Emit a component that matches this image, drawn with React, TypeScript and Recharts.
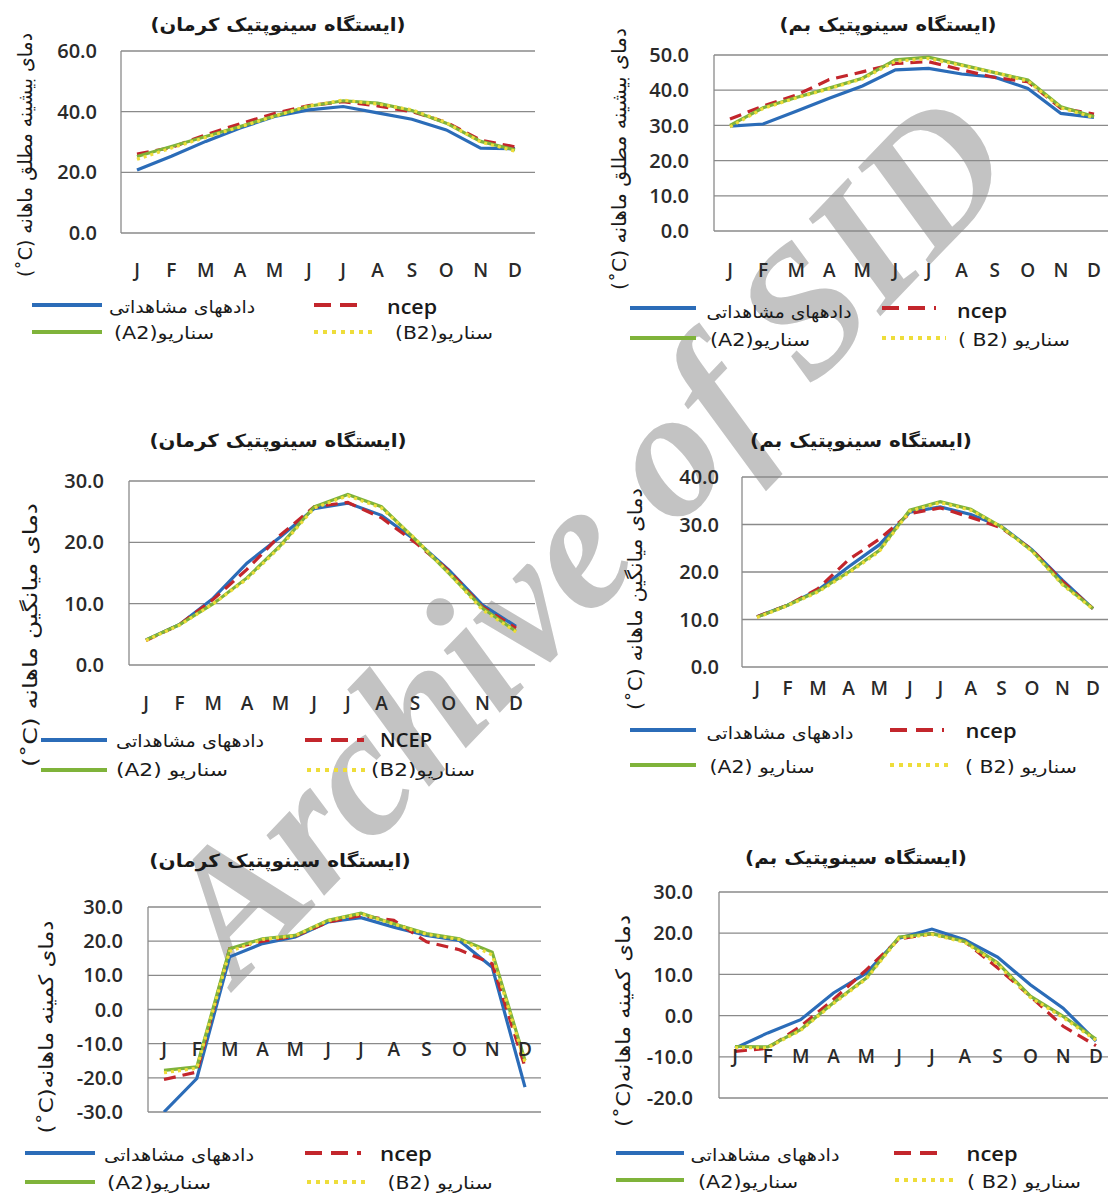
import React from 'react';
import { LineChart, Line, XAxis, YAxis, CartesianGrid } from 'recharts';

// ---------- data ----------
const months = ['J', 'F', 'M', 'A', 'M', 'J', 'J', 'A', 'S', 'O', 'N', 'D'];

// Kerman – absolute monthly maximum
const kermanMaxObs = [20.8, 25.3, 30.2, 34.6, 38.4, 40.6, 41.7, 39.6, 37.5, 34.0, 28.0, 27.8];
const kermanMaxNcep = [26.0, 28.2, 32.4, 36.0, 39.4, 42.0, 43.3, 41.9, 40.0, 36.5, 30.6, 28.4];
const kermanMaxA2 = [25.2, 28.5, 31.8, 35.1, 38.6, 41.8, 43.6, 42.8, 40.4, 36.2, 30.2, 27.4];
const kermanMaxB2 = [24.3, 28.0, 31.5, 35.0, 38.5, 41.9, 43.8, 42.5, 40.6, 36.4, 30.0, 27.0];

// Bam – absolute monthly maximum
const bamMaxObs = [29.8, 30.4, 34.0, 37.7, 41.2, 45.8, 46.2, 44.6, 43.7, 40.5, 33.4, 32.3];
const bamMaxNcep = [31.8, 35.5, 38.6, 43.0, 45.2, 47.6, 48.1, 45.8, 43.6, 42.4, 34.9, 33.2];
const bamMaxA2 = [30.0, 35.0, 37.9, 40.6, 43.4, 48.6, 49.4, 47.2, 45.0, 42.9, 35.3, 32.5];
const bamMaxB2 = [29.6, 34.8, 37.8, 40.4, 43.2, 48.2, 49.0, 47.0, 45.0, 42.6, 35.0, 32.2];

// Kerman – monthly mean
const kermanMeanObs = [4.1, 6.6, 10.9, 16.6, 20.9, 25.5, 26.4, 24.4, 20.4, 15.5, 9.8, 6.3];
const kermanMeanNcep = [4.0, 6.6, 10.7, 15.6, 21.2, 25.8, 26.5, 24.0, 20.0, 15.4, 9.5, 6.0];
const kermanMeanA2 = [4.1, 6.6, 10.0, 14.2, 19.5, 25.8, 27.8, 25.8, 20.5, 15.0, 9.3, 5.5];
const kermanMeanB2 = [4.0, 6.5, 10.0, 14.0, 19.3, 25.6, 27.6, 25.6, 20.6, 15.0, 9.0, 5.4];

// Bam – monthly mean
const bamMeanObs = [10.6, 13.0, 16.2, 21.1, 25.7, 32.6, 33.7, 32.1, 29.6, 24.7, 18.3, 12.3];
const bamMeanNcep = [10.6, 13.0, 16.5, 22.6, 26.9, 32.3, 33.5, 31.5, 29.3, 24.7, 18.0, 12.3];
const bamMeanA2 = [10.5, 13.0, 16.0, 20.0, 24.5, 33.0, 34.8, 33.2, 29.5, 24.5, 17.5, 12.3];
const bamMeanB2 = [10.4, 12.9, 15.8, 19.8, 24.3, 32.8, 34.6, 33.0, 29.5, 24.4, 17.3, 12.2];

// Kerman – monthly minimum
const kermanMinObs = [-30.0, -20.2, 15.4, 19.3, 21.2, 25.6, 26.9, 24.1, 21.7, 20.2, 12.4, -22.7];
const kermanMinNcep = [-20.5, -18.3, 17.8, 20.0, 21.5, 25.6, 27.5, 26.1, 19.8, 17.5, 13.4, -16.8];
const kermanMinA2 = [-17.8, -16.8, 17.8, 20.7, 21.7, 26.1, 28.2, 25.1, 22.2, 20.7, 16.8, -14.9];
const kermanMinB2 = [-18.5, -17.2, 17.0, 20.5, 21.6, 26.0, 28.0, 25.0, 22.0, 20.5, 16.0, -15.5];

// Bam – monthly minimum
const bamMinObs = [-7.9, -4.2, -1.0, 5.5, 10.3, 18.8, 21.0, 18.4, 14.2, 7.5, 1.8, -6.2];
const bamMinNcep = [-8.7, -7.9, -2.6, 3.9, 11.1, 18.6, 19.9, 18.0, 11.6, 4.7, -2.6, -7.3];
const bamMinA2 = [-7.5, -7.6, -3.4, 3.1, 9.1, 19.1, 19.9, 18.0, 12.8, 4.7, -0.2, -5.7];
const bamMinB2 = [-7.8, -7.8, -3.6, 2.9, 8.9, 18.8, 19.7, 17.8, 12.5, 4.4, -0.5, -6.0];

// tick values
const ticksMaxKerman = [0, 20, 40, 60];
const ticksMaxBam = [0, 10, 20, 30, 40, 50];
const ticksMeanKerman = [0, 10, 20, 30];
const ticksMeanBam = [0, 10, 20, 30, 40];
const ticksMinKerman = [-30, -20, -10, 0, 10, 20, 30];
const ticksMinBam = [-20, -10, 0, 10, 20, 30];

// texts
const titleKerman = '(ایستگاه سینوپتیک کرمان)';
const titleBam = '(ایستگاه سینوپتیک بم)';
const ylabelMax = '(˚C) دمای بیشینه مطلق ماهانه';
const ylabelMean = '(˚C) دمای میانگین ماهانه';
const ylabelMin = '(˚C)دمای کمینه ماهانه';
const legObs = 'دادههای مشاهداتی';
const watermarkWords = ['Archive', 'of', 'SID'];

// ---------- styles ----------
const COLORS: Record<string, string> = {
  obs: '#2b6cb8',
  ncep: '#c3262c',
  a2: '#7fb33a',
  b2: '#eedd3a',
};
const DASH: Record<string, string | undefined> = {
  obs: undefined,
  ncep: '12 7',
  a2: undefined,
  b2: '3 4',
};
const LEG_DASH: Record<string, string | undefined> = {
  obs: undefined,
  ncep: '17 9',
  a2: undefined,
  b2: '4 5',
};
const GRID = '#8a8a8a';
const NUM_FONT = "'Open Sans', 'DejaVu Sans', sans-serif";
const FA_FONT = "'DejaVu Sans', sans-serif";
const YAXIS_W = 60;
const XAXIS_H = 30;

// watermark placement (along one slanted line)
const WM = { angle: -46.2, size: 182, words: [{ x: 396, y: 732 }, { x: 683, y: 433 }, { x: 872, y: 236 }] };

type LegItem = { key: string; x1: number; x2: number; ly: number; tx: number; ty: number; tlen: number; text: string; latin?: boolean };
type PanelCfg = {
  series: Record<string, number[]>;
  yMin: number;
  yMax: number;
  yTicks: number[];
  box: { x: number; y: number; w: number; h: number };
  plot: { l: number; t: number; r: number; b: number };
  pad: { left: number; right: number };
  tickGap: number;
  monthY: number;
  title: { text: string; x: number; y: number; len: number };
  ylabel: { text: string; x: number; y: number; len: number };
  legend: LegItem[];
};

const panels: PanelCfg[] = [
  {
    series: { obs: kermanMaxObs, ncep: kermanMaxNcep, a2: kermanMaxA2, b2: kermanMaxB2 },
    yMin: 0, yMax: 60, yTicks: ticksMaxKerman,
    box: { x: 0, y: 0, w: 554, h: 300 },
    plot: { l: 121, t: 51, r: 535, b: 233 },
    pad: { left: 16, right: 20 },
    tickGap: 24, monthY: 270,
    title: { text: titleKerman, x: 278, y: 25, len: 255 },
    ylabel: { text: ylabelMax, x: 25, y: 155, len: 244 },
    legend: [
      { key: 'obs', x1: 32, x2: 102, ly: 305, tx: 182, ty: 307, tlen: 146, text: legObs },
      { key: 'ncep', x1: 314, x2: 366, ly: 305, tx: 412, ty: 306, tlen: 50, text: 'ncep', latin: true },
      { key: 'a2', x1: 32, x2: 102, ly: 332, tx: 164, ty: 333, tlen: 100, text: '(A2)سناریو' },
      { key: 'b2', x1: 314, x2: 375, ly: 332, tx: 444, ty: 333, tlen: 98, text: '(B2)سناریو' },
    ],
  },
  {
    series: { obs: bamMaxObs, ncep: bamMaxNcep, a2: bamMaxA2, b2: bamMaxB2 },
    yMin: 0, yMax: 50, yTicks: ticksMaxBam,
    box: { x: 554, y: 0, w: 556, h: 300 },
    plot: { l: 714, t: 55, r: 1110, b: 231 },
    pad: { left: 16, right: 16 },
    tickGap: 25, monthY: 270,
    title: { text: titleBam, x: 888, y: 25, len: 217 },
    ylabel: { text: ylabelMax, x: 619, y: 159, len: 262 },
    legend: [
      { key: 'obs', x1: 630, x2: 696, ly: 308, tx: 779, ty: 312, tlen: 145, text: legObs },
      { key: 'ncep', x1: 882, x2: 936, ly: 308, tx: 982, ty: 310, tlen: 50, text: 'ncep', latin: true },
      { key: 'a2', x1: 630, x2: 696, ly: 338, tx: 760, ty: 340, tlen: 100, text: '(A2)سناریو' },
      { key: 'b2', x1: 882, x2: 946, ly: 338, tx: 1014, ty: 340, tlen: 112, text: '( B2) سناریو' },
    ],
  },
  {
    series: { obs: kermanMeanObs, ncep: kermanMeanNcep, a2: kermanMeanA2, b2: kermanMeanB2 },
    yMin: 0, yMax: 30, yTicks: ticksMeanKerman,
    box: { x: 0, y: 420, w: 554, h: 300 },
    plot: { l: 129, t: 481, r: 535, b: 665 },
    pad: { left: 17, right: 19 },
    tickGap: 25, monthY: 703,
    title: { text: titleKerman, x: 278, y: 440, len: 257 },
    ylabel: { text: ylabelMean, x: 30, y: 635, len: 264 },
    legend: [
      { key: 'obs', x1: 41, x2: 107, ly: 740, tx: 190, ty: 741, tlen: 148, text: legObs },
      { key: 'ncep', x1: 305, x2: 364, ly: 740, tx: 406, ty: 740, tlen: 52, text: 'NCEP', latin: true },
      { key: 'a2', x1: 41, x2: 107, ly: 770, tx: 172, ty: 770, tlen: 112, text: '(A2) سناریو' },
      { key: 'b2', x1: 307, x2: 368, ly: 770, tx: 423, ty: 770, tlen: 104, text: '(B2)سناریو' },
    ],
  },
  {
    series: { obs: bamMeanObs, ncep: bamMeanNcep, a2: bamMeanA2, b2: bamMeanB2 },
    yMin: 0, yMax: 40, yTicks: ticksMeanBam,
    box: { x: 554, y: 420, w: 556, h: 300 },
    plot: { l: 742, t: 477, r: 1110, b: 667 },
    pad: { left: 15, right: 17 },
    tickGap: 23, monthY: 688,
    title: { text: titleBam, x: 861, y: 440, len: 222 },
    ylabel: { text: ylabelMean, x: 635, y: 599, len: 222 },
    legend: [
      { key: 'obs', x1: 630, x2: 696, ly: 730, tx: 780, ty: 733, tlen: 147, text: legObs },
      { key: 'ncep', x1: 890, x2: 944, ly: 730, tx: 991, ty: 730, tlen: 51, text: 'ncep', latin: true },
      { key: 'a2', x1: 630, x2: 696, ly: 765, tx: 762, ty: 767, tlen: 105, text: '(A2) سناریو' },
      { key: 'b2', x1: 890, x2: 953, ly: 765, tx: 1021, ty: 767, tlen: 112, text: '( B2) سناریو' },
    ],
  },
  {
    series: { obs: kermanMinObs, ncep: kermanMinNcep, a2: kermanMinA2, b2: kermanMinB2 },
    yMin: -30, yMax: 30, yTicks: ticksMinKerman,
    box: { x: 0, y: 840, w: 554, h: 310 },
    plot: { l: 148, t: 907, r: 541, b: 1112 },
    pad: { left: 16, right: 16 },
    tickGap: 25, monthY: 1049,
    title: { text: titleKerman, x: 280, y: 860, len: 261 },
    ylabel: { text: ylabelMin, x: 46, y: 1027, len: 213 },
    legend: [
      { key: 'obs', x1: 25, x2: 95, ly: 1153, tx: 179, ty: 1155, tlen: 150, text: legObs },
      { key: 'ncep', x1: 305, x2: 361, ly: 1153, tx: 406, ty: 1153, tlen: 52, text: 'ncep', latin: true },
      { key: 'a2', x1: 25, x2: 95, ly: 1182, tx: 159, ty: 1183, tlen: 104, text: '(A2)سناریو' },
      { key: 'b2', x1: 307, x2: 368, ly: 1182, tx: 440, ty: 1183, tlen: 105, text: '(B2) سناریو' },
    ],
  },
  {
    series: { obs: bamMinObs, ncep: bamMinNcep, a2: bamMinA2, b2: bamMinB2 },
    yMin: -20, yMax: 30, yTicks: ticksMinBam,
    box: { x: 554, y: 840, w: 558, h: 300 },
    plot: { l: 719, t: 892, r: 1112, b: 1098 },
    pad: { left: 16, right: 16 },
    tickGap: 26, monthY: 1056,
    title: { text: titleBam, x: 856, y: 857, len: 222 },
    ylabel: { text: ylabelMin, x: 623, y: 1021, len: 212 },
    legend: [
      { key: 'obs', x1: 616, x2: 684, ly: 1153, tx: 765, ty: 1155, tlen: 149, text: legObs },
      { key: 'ncep', x1: 894, x2: 946, ly: 1153, tx: 992, ty: 1153, tlen: 51, text: 'ncep', latin: true },
      { key: 'a2', x1: 616, x2: 684, ly: 1180, tx: 748, ty: 1182, tlen: 100, text: '(A2)سناریو' },
      { key: 'b2', x1: 895, x2: 955, ly: 1180, tx: 1024, ty: 1182, tlen: 114, text: '( B2) سناریو' },
    ],
  },
];

const SERIES_ORDER = ['obs', 'ncep', 'a2', 'b2'];

// Text that keeps its shaping and is scaled horizontally to a measured length
function FitText({ x, y, len, angle = 0, children, ...rest }: any) {
  const ref = React.useRef<SVGTextElement>(null);
  const [sx, setSx] = React.useState(1);
  React.useLayoutEffect(() => {
    const measure = () => {
      const el = ref.current;
      if (!el) return;
      const w = el.getComputedTextLength();
      if (w > 0) setSx(len / w);
    };
    measure();
    const fonts = (document as any).fonts;
    if (fonts && fonts.ready) fonts.ready.then(measure);
  }, [len]);
  return (
    <text
      ref={ref}
      x={0}
      y={0}
      textAnchor="middle"
      dominantBaseline="central"
      transform={`translate(${x} ${y}) rotate(${angle}) scale(${sx} 1)`}
      {...rest}
    >
      {children}
    </text>
  );
}

function Panel({ cfg }: { cfg: PanelCfg }) {
  const data = months.map((m, i) => ({
    k: i,
    obs: cfg.series.obs[i],
    ncep: cfg.series.ncep[i],
    a2: cfg.series.a2[i],
    b2: cfg.series.b2[i],
  }));
  const { box, plot } = cfg;
  const margin = {
    top: plot.t - box.y,
    left: plot.l - box.x - YAXIS_W,
    right: box.x + box.w - plot.r,
    bottom: box.y + box.h - plot.b - XAXIS_H,
  };
  const labelOffset = cfg.monthY - plot.b;
  const MonthTick = (props: any) => {
    const { x, y, payload } = props;
    return (
      <text
        x={x}
        y={y + labelOffset}
        textAnchor="middle"
        dominantBaseline="central"
        fontFamily={NUM_FONT}
        fontWeight={600}
        fontSize={19}
        fill="#2a2a2a"
      >
        {months[payload.value]}
      </text>
    );
  };
  return (
    <div style={{ position: 'absolute', left: box.x, top: box.y, width: box.w, height: box.h }}>
      <LineChart width={box.w} height={box.h} data={data} margin={margin}>
        <CartesianGrid horizontal vertical={false} stroke={GRID} strokeWidth={1.3} />
        <XAxis
          dataKey="k"
          type="category"
          scale="point"
          padding={{ left: cfg.pad.left, right: cfg.pad.right }}
          axisLine={false}
          tickLine={false}
          tickSize={0}
          tickMargin={0}
          interval={0}
          height={XAXIS_H}
          tick={<MonthTick />}
        />
        <YAxis
          type="number"
          domain={[cfg.yMin, cfg.yMax]}
          ticks={cfg.yTicks}
          interval={0}
          allowDataOverflow
          width={YAXIS_W}
          axisLine={{ stroke: GRID, strokeWidth: 1.3 }}
          tickLine={false}
          tickSize={0}
          tickMargin={cfg.tickGap}
          tickFormatter={(v: number) => v.toFixed(1)}
          tick={{ fontFamily: NUM_FONT, fontWeight: 600, fontSize: 20, fill: '#2a2a2a' }}
        />
        {SERIES_ORDER.map((s) => (
          <Line
            key={s}
            dataKey={s}
            type="linear"
            stroke={COLORS[s]}
            strokeWidth={3.2}
            strokeDasharray={DASH[s]}
            dot={false}
            activeDot={false}
            isAnimationActive={false}
          />
        ))}
      </LineChart>
    </div>
  );
}

function Watermark() {
  return (
    <svg width={1108} height={1196} style={{ position: 'absolute', left: 0, top: 0, pointerEvents: 'none' }}>
      {watermarkWords.map((w, i) => (
        <text
          key={w}
          x={0}
          y={0}
          textAnchor="middle"
          dominantBaseline="central"
          fontFamily="'Liberation Serif', 'DejaVu Serif', serif"
          fontWeight="bold"
          fontStyle="italic"
          fontSize={WM.size}
          fill="#c3c3c3"
          transform={`translate(${WM.words[i].x} ${WM.words[i].y}) rotate(${WM.angle})`}
        >
          {w}
        </text>
      ))}
    </svg>
  );
}

function Overlay() {
  return (
    <svg width={1108} height={1196} style={{ position: 'absolute', left: 0, top: 0, pointerEvents: 'none' }}>
      {panels.map((p, pi) => (
        <g key={pi}>
          <FitText
            x={p.title.x}
            y={p.title.y}
            len={p.title.len}
            fontFamily={FA_FONT}
            fontWeight="bold"
            fontSize={18}
            fill="#1a1a1a"
          >
            {p.title.text}
          </FitText>
          <FitText
            x={p.ylabel.x}
            y={p.ylabel.y}
            len={p.ylabel.len}
            angle={-90}
            fontFamily={FA_FONT}
            fontSize={20}
            fill="#1a1a1a"
          >
            {p.ylabel.text}
          </FitText>
          {p.legend.map((it) => (
            <g key={it.key}>
              <line
                x1={it.x1}
                x2={it.x2}
                y1={it.ly}
                y2={it.ly}
                stroke={COLORS[it.key]}
                strokeWidth={4}
                strokeDasharray={LEG_DASH[it.key]}
              />
              <FitText
                x={it.tx}
                y={it.ty}
                len={it.tlen}
                fontFamily={it.latin ? NUM_FONT : FA_FONT}
                fontWeight={it.latin ? 600 : 400}
                fontSize={it.latin ? 20 : 17}
                fill="#1a1a1a"
              >
                {it.text}
              </FitText>
            </g>
          ))}
        </g>
      ))}
    </svg>
  );
}

export default function App() {
  return (
    <div
      style={{
        position: 'absolute',
        left: 0,
        top: 0,
        width: 1108,
        height: 1196,
        overflow: 'hidden',
        background: '#ffffff',
      }}
    >
      <Watermark />
      {panels.map((p, i) => (
        <Panel key={i} cfg={p} />
      ))}
      <Overlay />
    </div>
  );
}
